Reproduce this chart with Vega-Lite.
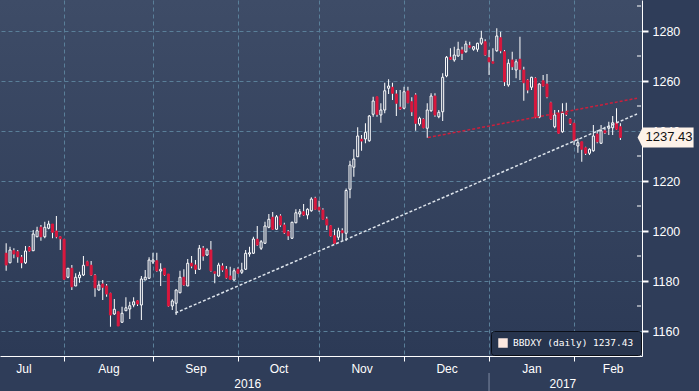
{
"$schema": "https://vega.github.io/schema/vega-lite/v6.json",
"width": 642, "height": 356,
"autosize": {"type": "none"},
"padding": {"left": 0, "top": 0, "right": 57, "bottom": 35},
"background": "#2f3d59",
"view": {"stroke": null, "fill": {"gradient": "linear", "x1": 0, "y1": 0, "x2": 0, "y2": 1, "stops": [{"offset": 0, "color": "#3e4c67"}, {"offset": 1, "color": "#2c3a56"}]}},
"datasets": {
"candles": [
{"i":0,"o":1191.1,"h":1195.1,"l":1184.1,"c":1186.4},
{"i":1,"o":1187.3,"h":1193.7,"l":1187.1,"c":1192.4},
{"i":2,"o":1192.1,"h":1193.1,"l":1189.1,"c":1190.8},
{"i":3,"o":1191.7,"h":1192.4,"l":1187.3,"c":1189.7},
{"i":4,"o":1189.5,"h":1190.4,"l":1185.1,"c":1187.3},
{"i":5,"o":1187.3,"h":1194.0,"l":1186.8,"c":1192.0},
{"i":6,"o":1193.5,"h":1194.0,"l":1191.7,"c":1192.0},
{"i":7,"o":1192.1,"h":1200.4,"l":1192.1,"c":1198.8},
{"i":8,"o":1197.7,"h":1201.7,"l":1197.5,"c":1200.1},
{"i":9,"o":1201.5,"h":1202.4,"l":1196.1,"c":1197.7},
{"i":10,"o":1197.7,"h":1203.7,"l":1197.1,"c":1201.5},
{"i":11,"o":1201.1,"h":1204.1,"l":1200.7,"c":1202.8},
{"i":12,"o":1202.8,"h":1202.8,"l":1197.1,"c":1199.5},
{"i":13,"o":1200.0,"h":1206.0,"l":1197.1,"c":1197.7},
{"i":14,"o":1197.7,"h":1198.0,"l":1192.4,"c":1196.9},
{"i":15,"o":1196.7,"h":1196.7,"l":1180.4,"c":1180.7},
{"i":16,"o":1181.5,"h":1185.1,"l":1181.1,"c":1185.1},
{"i":17,"o":1185.1,"h":1186.4,"l":1176.4,"c":1177.7},
{"i":18,"o":1178.0,"h":1183.1,"l":1178.0,"c":1181.5},
{"i":19,"o":1181.3,"h":1183.7,"l":1179.3,"c":1182.4},
{"i":20,"o":1182.4,"h":1190.0,"l":1182.0,"c":1186.3},
{"i":21,"o":1187.7,"h":1188.1,"l":1186.1,"c":1186.1},
{"i":22,"o":1186.3,"h":1188.0,"l":1182.0,"c":1182.4},
{"i":23,"o":1182.3,"h":1182.8,"l":1173.7,"c":1177.3},
{"i":24,"o":1176.4,"h":1180.1,"l":1176.1,"c":1178.4},
{"i":25,"o":1178.8,"h":1180.4,"l":1172.4,"c":1177.5},
{"i":26,"o":1178.0,"h":1178.8,"l":1173.7,"c":1174.8},
{"i":27,"o":1175.1,"h":1175.3,"l":1161.7,"c":1166.4},
{"i":28,"o":1166.8,"h":1172.8,"l":1166.4,"c":1168.7},
{"i":29,"o":1167.7,"h":1167.7,"l":1162.0,"c":1162.0},
{"i":30,"o":1163.5,"h":1169.7,"l":1163.3,"c":1167.1},
{"i":31,"o":1168.1,"h":1173.5,"l":1168.0,"c":1169.3},
{"i":32,"o":1168.8,"h":1171.7,"l":1164.8,"c":1170.1},
{"i":33,"o":1170.4,"h":1173.5,"l":1169.5,"c":1171.7},
{"i":34,"o":1172.1,"h":1172.4,"l":1170.0,"c":1170.8},
{"i":35,"o":1170.4,"h":1182.0,"l":1164.4,"c":1180.8},
{"i":36,"o":1180.4,"h":1184.4,"l":1180.4,"c":1181.5},
{"i":37,"o":1181.1,"h":1189.5,"l":1180.8,"c":1188.4},
{"i":38,"o":1187.6,"h":1191.3,"l":1186.8,"c":1188.4},
{"i":39,"o":1188.1,"h":1191.3,"l":1183.7,"c":1184.1},
{"i":40,"o":1184.0,"h":1187.1,"l":1178.0,"c":1184.7},
{"i":41,"o":1185.1,"h":1185.1,"l":1182.0,"c":1182.4},
{"i":42,"o":1182.8,"h":1182.8,"l":1169.7,"c":1170.0},
{"i":43,"o":1170.0,"h":1172.7,"l":1168.4,"c":1172.0},
{"i":44,"o":1171.1,"h":1176.7,"l":1166.4,"c":1176.4},
{"i":45,"o":1175.3,"h":1184.1,"l":1175.1,"c":1181.5},
{"i":46,"o":1181.5,"h":1184.7,"l":1178.0,"c":1178.4},
{"i":47,"o":1178.0,"h":1188.8,"l":1178.0,"c":1187.1},
{"i":48,"o":1187.1,"h":1190.0,"l":1185.1,"c":1186.0},
{"i":49,"o":1186.4,"h":1188.4,"l":1182.8,"c":1184.7},
{"i":50,"o":1184.7,"h":1194.4,"l":1184.4,"c":1193.1},
{"i":51,"o":1193.1,"h":1194.0,"l":1188.1,"c":1190.0},
{"i":52,"o":1190.4,"h":1193.1,"l":1190.0,"c":1192.4},
{"i":53,"o":1192.4,"h":1196.0,"l":1183.7,"c":1184.1},
{"i":54,"o":1183.7,"h":1183.7,"l":1179.1,"c":1183.1},
{"i":55,"o":1182.0,"h":1187.3,"l":1181.7,"c":1186.4},
{"i":56,"o":1186.0,"h":1187.1,"l":1183.7,"c":1184.4},
{"i":57,"o":1184.7,"h":1186.0,"l":1180.9,"c":1181.3},
{"i":58,"o":1182.0,"h":1185.7,"l":1180.7,"c":1180.7},
{"i":59,"o":1180.4,"h":1185.1,"l":1180.1,"c":1184.1},
{"i":60,"o":1184.7,"h":1185.5,"l":1182.8,"c":1183.1},
{"i":61,"o":1183.5,"h":1187.3,"l":1182.8,"c":1184.4},
{"i":62,"o":1184.7,"h":1192.4,"l":1184.4,"c":1191.1},
{"i":63,"o":1190.8,"h":1193.7,"l":1189.7,"c":1191.3},
{"i":64,"o":1191.1,"h":1197.7,"l":1190.8,"c":1196.8},
{"i":65,"o":1196.7,"h":1202.0,"l":1194.0,"c":1194.4},
{"i":66,"o":1193.1,"h":1196.4,"l":1192.4,"c":1195.7},
{"i":67,"o":1195.1,"h":1203.7,"l":1194.8,"c":1202.0},
{"i":68,"o":1201.5,"h":1206.8,"l":1201.1,"c":1204.7},
{"i":69,"o":1205.5,"h":1207.6,"l":1200.4,"c":1200.7},
{"i":70,"o":1200.7,"h":1206.4,"l":1200.4,"c":1205.7},
{"i":71,"o":1206.0,"h":1206.7,"l":1201.7,"c":1202.4},
{"i":72,"o":1202.4,"h":1203.3,"l":1198.8,"c":1199.3},
{"i":73,"o":1199.7,"h":1200.4,"l":1196.4,"c":1198.1},
{"i":74,"o":1197.1,"h":1203.7,"l":1196.8,"c":1203.5},
{"i":75,"o":1203.3,"h":1208.7,"l":1203.1,"c":1207.3},
{"i":76,"o":1206.8,"h":1208.8,"l":1205.5,"c":1207.7},
{"i":77,"o":1207.7,"h":1210.8,"l":1206.0,"c":1206.4},
{"i":78,"o":1206.4,"h":1209.1,"l":1204.7,"c":1208.7},
{"i":79,"o":1208.1,"h":1213.5,"l":1207.7,"c":1212.8},
{"i":80,"o":1213.1,"h":1213.7,"l":1208.4,"c":1208.7},
{"i":81,"o":1209.5,"h":1212.1,"l":1207.7,"c":1208.4},
{"i":82,"o":1208.4,"h":1209.1,"l":1204.4,"c":1204.7},
{"i":83,"o":1204.8,"h":1205.7,"l":1200.4,"c":1202.4},
{"i":84,"o":1202.1,"h":1202.4,"l":1197.7,"c":1198.0},
{"i":85,"o":1198.1,"h":1200.7,"l":1194.8,"c":1195.1},
{"i":86,"o":1197.5,"h":1201.3,"l":1196.4,"c":1200.1},
{"i":87,"o":1200.1,"h":1201.1,"l":1196.4,"c":1199.3},
{"i":88,"o":1199.1,"h":1217.0,"l":1196.0,"c":1216.2},
{"i":89,"o":1216.7,"h":1228.1,"l":1213.1,"c":1226.4},
{"i":90,"o":1225.5,"h":1232.7,"l":1221.7,"c":1228.8},
{"i":91,"o":1229.7,"h":1241.5,"l":1229.7,"c":1238.0},
{"i":92,"o":1236.7,"h":1238.4,"l":1232.1,"c":1236.0},
{"i":93,"o":1236.8,"h":1243.1,"l":1235.1,"c":1239.5},
{"i":94,"o":1236.1,"h":1246.4,"l":1235.7,"c":1246.0},
{"i":95,"o":1246.7,"h":1253.7,"l":1245.7,"c":1252.0},
{"i":96,"o":1253.7,"h":1253.7,"l":1245.7,"c":1246.7},
{"i":97,"o":1246.4,"h":1251.1,"l":1243.3,"c":1248.4},
{"i":98,"o":1248.4,"h":1259.3,"l":1247.1,"c":1256.1},
{"i":99,"o":1257.1,"h":1260.7,"l":1254.8,"c":1258.0},
{"i":100,"o":1257.5,"h":1259.3,"l":1252.4,"c":1255.1},
{"i":101,"o":1254.8,"h":1256.4,"l":1246.0,"c":1251.1},
{"i":102,"o":1249.5,"h":1256.4,"l":1248.4,"c":1248.8},
{"i":103,"o":1249.1,"h":1257.7,"l":1248.7,"c":1255.7},
{"i":104,"o":1256.0,"h":1257.7,"l":1251.1,"c":1251.3},
{"i":105,"o":1251.7,"h":1253.5,"l":1246.0,"c":1247.7},
{"i":106,"o":1254.4,"h":1255.1,"l":1240.1,"c":1243.1},
{"i":107,"o":1242.8,"h":1245.7,"l":1242.1,"c":1245.1},
{"i":108,"o":1244.7,"h":1245.1,"l":1241.1,"c":1241.3},
{"i":109,"o":1241.1,"h":1251.1,"l":1237.3,"c":1248.4},
{"i":110,"o":1248.1,"h":1255.1,"l":1247.7,"c":1254.0},
{"i":111,"o":1254.0,"h":1255.1,"l":1245.7,"c":1246.4},
{"i":112,"o":1245.7,"h":1248.4,"l":1245.1,"c":1247.5},
{"i":113,"o":1247.7,"h":1263.1,"l":1244.0,"c":1261.5},
{"i":114,"o":1262.0,"h":1270.0,"l":1261.5,"c":1269.5},
{"i":115,"o":1269.5,"h":1273.1,"l":1268.4,"c":1268.7},
{"i":116,"o":1268.4,"h":1273.7,"l":1267.7,"c":1270.4},
{"i":117,"o":1270.0,"h":1275.7,"l":1269.7,"c":1272.7},
{"i":118,"o":1272.4,"h":1273.7,"l":1268.4,"c":1271.1},
{"i":119,"o":1271.7,"h":1276.1,"l":1271.3,"c":1274.8},
{"i":120,"o":1274.1,"h":1275.7,"l":1273.1,"c":1273.5},
{"i":121,"o":1272.7,"h":1274.0,"l":1272.1,"c":1273.7},
{"i":122,"o":1272.7,"h":1275.3,"l":1271.7,"c":1275.1},
{"i":123,"o":1275.1,"h":1280.1,"l":1274.4,"c":1277.1},
{"i":124,"o":1275.7,"h":1276.7,"l":1270.0,"c":1270.4},
{"i":125,"o":1269.3,"h":1272.4,"l":1262.4,"c":1267.7},
{"i":126,"o":1267.7,"h":1273.1,"l":1267.1,"c":1267.1},
{"i":127,"o":1272.1,"h":1281.1,"l":1271.7,"c":1278.0},
{"i":128,"o":1277.3,"h":1279.7,"l":1271.1,"c":1272.1},
{"i":129,"o":1271.7,"h":1272.4,"l":1258.0,"c":1259.7},
{"i":130,"o":1258.4,"h":1268.7,"l":1257.7,"c":1267.1},
{"i":131,"o":1268.4,"h":1271.7,"l":1264.4,"c":1265.7},
{"i":132,"o":1264.4,"h":1268.7,"l":1261.1,"c":1267.7},
{"i":133,"o":1268.7,"h":1277.7,"l":1260.4,"c":1264.7},
{"i":134,"o":1264.4,"h":1265.7,"l":1252.1,"c":1259.3},
{"i":135,"o":1260.4,"h":1260.8,"l":1255.1,"c":1256.4},
{"i":136,"o":1257.5,"h":1261.7,"l":1256.4,"c":1261.5},
{"i":137,"o":1261.1,"h":1261.5,"l":1245.1,"c":1245.5},
{"i":138,"o":1245.5,"h":1259.1,"l":1245.1,"c":1258.8},
{"i":139,"o":1260.1,"h":1262.4,"l":1257.7,"c":1258.0},
{"i":140,"o":1258.8,"h":1262.8,"l":1253.1,"c":1253.7},
{"i":141,"o":1251.3,"h":1251.7,"l":1244.4,"c":1244.8},
{"i":142,"o":1241.7,"h":1248.4,"l":1241.1,"c":1246.4},
{"i":143,"o":1247.1,"h":1248.4,"l":1238.8,"c":1239.1},
{"i":144,"o":1239.7,"h":1251.1,"l":1239.3,"c":1247.1},
{"i":145,"o":1247.3,"h":1251.3,"l":1246.0,"c":1246.7},
{"i":146,"o":1244.7,"h":1245.1,"l":1242.4,"c":1243.1},
{"i":147,"o":1243.1,"h":1243.3,"l":1234.4,"c":1236.4},
{"i":148,"o":1234.0,"h":1237.1,"l":1231.3,"c":1235.3},
{"i":149,"o":1235.7,"h":1235.7,"l":1227.7,"c":1232.7},
{"i":150,"o":1233.3,"h":1233.7,"l":1230.4,"c":1231.1},
{"i":151,"o":1231.1,"h":1233.1,"l":1230.4,"c":1232.7},
{"i":152,"o":1232.1,"h":1242.4,"l":1231.7,"c":1238.0},
{"i":153,"o":1238.8,"h":1240.4,"l":1235.1,"c":1235.7},
{"i":154,"o":1235.1,"h":1242.4,"l":1234.8,"c":1240.1},
{"i":155,"o":1240.1,"h":1241.7,"l":1238.8,"c":1239.3},
{"i":156,"o":1241.1,"h":1243.7,"l":1238.4,"c":1241.7},
{"i":157,"o":1241.3,"h":1246.0,"l":1238.4,"c":1243.3},
{"i":158,"o":1243.3,"h":1249.1,"l":1240.4,"c":1240.7},
{"i":159,"o":1241.7,"h":1243.1,"l":1236.4,"c":1237.43}
],
"trendW": [{"i":43.8,"v":1167.2},{"i":163.3,"v":1246.8}],
"trendR": [{"i":109.2,"v":1237.4},{"i":163.3,"v":1253.1}],
"minorTicks": [{"t":1150},{"t":1170},{"t":1190},{"t":1210},{"t":1230},{"t":1250},{"t":1270},{"t":1290}]
},
"layer": [
{
"data": {"name": "candles"},
"mark": {"type": "rule", "color": "#ffffff", "strokeWidth": 1},
"encoding": {
"x": {"field": "i", "type": "quantitative",
 "scale": {"domain": [-0.3, 163.3], "nice": false, "zero": false},
 "axis": {"title": null,
  "values": [4.5, 15, 26.5, 38, 49, 60, 62.4, 70.5, 81, 92, 103, 114, 125, 136, 144, 147, 157],
  "grid": true, "gridColor": "#5a7f99", "gridDash": [4, 3], "gridWidth": 1,
  "gridOpacity": {"condition": {"test": "datum.value == 15 || datum.value == 38 || datum.value == 60 || datum.value == 81 || datum.value == 103 || datum.value == 125 || datum.value == 147", "value": 1}, "value": 0},
  "tickOpacity": {"condition": {"test": "datum.value == 15 || datum.value == 38 || datum.value == 60 || datum.value == 81 || datum.value == 103 || datum.value == 125 || datum.value == 147", "value": 1}, "value": 0},
  "tickColor": "#ffffff", "tickSize": 5, "tickWidth": 1,
  "domainColor": "#ffffff", "domainWidth": 1,
  "labelColor": "#ffffff", "labelFont": "Liberation Sans", "labelFontSize": 12,
  "labelPadding": 2, "labelBaseline": "top", "labelLineHeight": 15,
  "labelOverlap": false, "labelFlush": false, "labelBound": false,
  "labelExpr": "datum.value == 4.5 ? 'Jul' : datum.value == 26.5 ? 'Aug' : datum.value == 49 ? 'Sep' : datum.value == 70.5 ? 'Oct' : datum.value == 92 ? 'Nov' : datum.value == 114 ? 'Dec' : datum.value == 136 ? 'Jan' : datum.value == 157 ? 'Feb' : datum.value == 62.4 ? ['', '2016'] : datum.value == 144 ? ['', '2017'] : ''"
 }},
"y": {"field": "l", "type": "quantitative",
 "scale": {"domain": [1150, 1292.4], "nice": false, "zero": false},
 "axis": {"title": null, "orient": "right",
  "values": [1160, 1180, 1200, 1220, 1240, 1260, 1280],
  "format": "d",
  "grid": true, "gridColor": "#5a7f99", "gridDash": [4, 3], "gridWidth": 1,
  "tickColor": "#ffffff", "tickSize": 6, "tickWidth": 2,
  "domainColor": "#ffffff", "domainWidth": 1,
  "labelColor": "#ffffff", "labelFont": "Liberation Sans", "labelFontSize": 12.5, "labelPadding": 4,
  "labelOverlap": false, "labelFlush": false, "labelBound": false
 }},
"y2": {"field": "h"}
}
},
{
"data": {"name": "candles"},
"mark": {"type": "bar", "width": 2, "strokeWidth": 1},
"encoding": {
"x": {"field": "i", "type": "quantitative"},
"y": {"field": "o", "type": "quantitative"},
"y2": {"field": "c"},
"fill": {"condition": {"test": "datum.c < datum.o", "value": "#d9173d"}, "value": "#34425e"},
"stroke": {"condition": {"test": "datum.c < datum.o", "value": "#d9173d"}, "value": "#ffffff"}
}
},
{
"data": {"name": "trendW"},
"mark": {"type": "line", "color": "#dde4ec", "strokeWidth": 1.5, "strokeDash": [3, 2], "clip": true},
"encoding": {"x": {"field": "i", "type": "quantitative"}, "y": {"field": "v", "type": "quantitative"}}
},
{
"data": {"name": "trendR"},
"mark": {"type": "line", "color": "#cc1f3c", "strokeWidth": 1.5, "strokeDash": [3, 2], "clip": true},
"encoding": {"x": {"field": "i", "type": "quantitative"}, "y": {"field": "v", "type": "quantitative"}}
},
{
"data": {"name": "minorTicks"},
"mark": {"type": "rule", "color": "#ffffff", "strokeWidth": 1, "clip": false},
"encoding": {"x": {"datum": 163.3, "type": "quantitative"}, "x2": {"datum": 164.35}, "y": {"field": "t", "type": "quantitative"}}
},
{
"data": {"values": [{"s": "BBDXY (daily) 1237.43"}]},
"mark": {"type": "square", "opacity": 0, "filled": true},
"encoding": {
"color": {"field": "s", "type": "nominal", "scale": {"range": ["#fde9e0"]},
 "legend": {"title": null, "orient": "bottom-right", "offset": 1, "padding": 7,
  "fillColor": "#27344d", "strokeColor": "#0b0f18", "cornerRadius": 3,
  "symbolType": "square", "symbolSize": 90, "symbolOpacity": 1, "symbolStrokeWidth": 0,
  "labelFont": "DejaVu Sans Mono", "labelFontSize": 9.5, "labelColor": "#ffffff", "labelOffset": 5}}
}
},
{
"data": {"values": [{"p": 1237.43}]},
"mark": {"type": "point", "shape": "M -1 0 L -0.82 -0.357 L 1 -0.357 L 1 0.357 L -0.82 0.357 Z", "size": 3136, "filled": true, "fill": "#fdf2e9", "strokeWidth": 0, "opacity": 1, "clip": false},
"encoding": {"x": {"datum": 170.7, "type": "quantitative"}, "y": {"field": "p", "type": "quantitative"}}
},
{
"data": {"values": [{"p": 1237.43}]},
"mark": {"type": "text", "font": "Liberation Sans", "fontSize": 13, "color": "#111111", "align": "center", "baseline": "middle", "clip": false},
"encoding": {"x": {"datum": 171.6, "type": "quantitative"}, "y": {"field": "p", "type": "quantitative"}, "text": {"field": "p", "type": "quantitative", "format": ".2f"}}
},
{
"data": {"values": [{}]},
"mark": {"type": "rule", "color": "#7f8ca3", "strokeWidth": 1, "clip": false},
"encoding": {"x": {"datum": 125, "type": "quantitative"}, "y": {"datum": 1143.2, "type": "quantitative"}, "y2": {"datum": 1136}}
}
]
}
